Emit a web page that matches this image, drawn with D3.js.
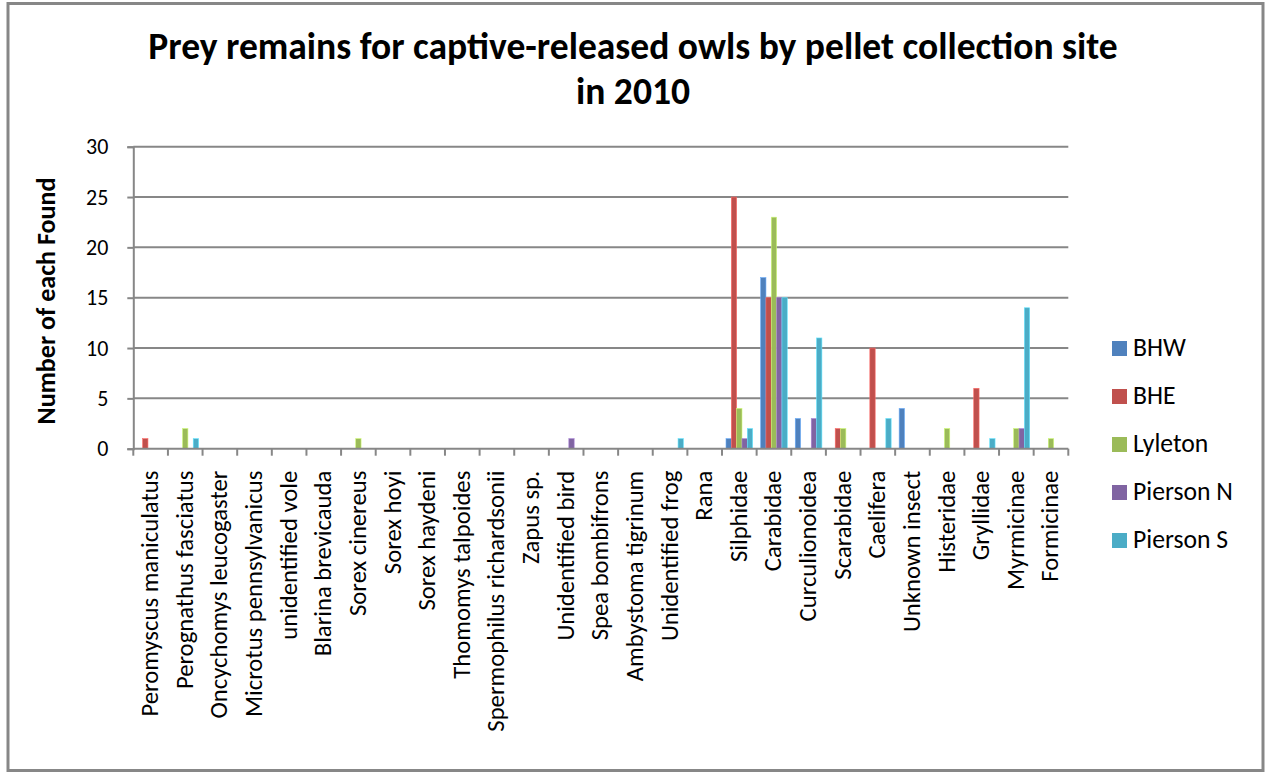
<!DOCTYPE html>
<html>
<head>
<meta charset="utf-8">
<script src="https://cdn.jsdelivr.net/npm/d3@7"></script>
<style>
  html, body { margin: 0; padding: 0; background: #fff; }
  svg { display: block; font-family: Calibri, Carlito, Lato, "Open Sans", sans-serif; }
</style>
</head>
<body>
<svg id="chart" width="1270" height="774"></svg>
<script>
// Prey taxa, in the order listed along the category axis
const categories = [
  "Peromyscus maniculatus", "Perognathus fasciatus", "Oncychomys leucogaster",
  "Microtus pennsylvanicus", "unidentified vole", "Blarina brevicauda",
  "Sorex cinereus", "Sorex hoyi", "Sorex haydeni", "Thomomys talpoides",
  "Spermophilus richardsonii", "Zapus sp.", "Unidentified bird",
  "Spea bombifrons", "Ambystoma tigrinum", "Unidentified frog", "Rana",
  "Silphidae", "Carabidae", "Curculionoidea", "Scarabidae", "Caelifera",
  "Unknown insect", "Histeridae", "Gryllidae", "Myrmicinae", "Formicinae"
];

// Counts per pellet collection site (same order as categories)
const bhw       = [0,0,0,0,0,0,0,0,0,0,0,0,0,0,0,0,0, 1,17,3,0,0,4,0,0,0,0];
const bhe       = [1,0,0,0,0,0,0,0,0,0,0,0,0,0,0,0,0,25,15,0,2,10,0,0,6,0,0];
const lyleton   = [0,2,0,0,0,0,1,0,0,0,0,0,0,0,0,0,0, 4,23,0,2,0,0,2,0,2,1];
const piersonN  = [0,0,0,0,0,0,0,0,0,0,0,0,1,0,0,0,0, 1,15,3,0,0,0,0,0,2,0];
const piersonS  = [0,1,0,0,0,0,0,0,0,0,0,0,0,0,0,1,0, 2,15,11,0,3,0,0,1,14,0];

const seriesNames = ["BHW", "BHE", "Lyleton", "Pierson N", "Pierson S"];
const seriesColors = ["#4F81BD", "#C0504D", "#9BBB59", "#8064A2", "#4BACC6"];
const yTicks = [0, 5, 10, 15, 20, 25, 30];

const series = [bhw, bhe, lyleton, piersonN, piersonS].map((vals, i) => ({
  name: seriesNames[i], color: seriesColors[i], values: vals
}));

const svg = d3.select("#chart");
const plot = { left: 133.3, right: 1068.3, top: 146.7, bottom: 448.7 };
const gridColor = "#878787";

// Pick a font size so that a sample string spans the wanted width
function fitSize(sample, width, weight) {
  const probe = svg.append("text").attr("font-size", 20)
    .attr("font-weight", weight || "normal").text(sample);
  const len = probe.node().getComputedTextLength();
  probe.remove();
  return 20 * width / len;
}
const titleSize  = fitSize("Prey remains for captive-released owls by pellet collection site", 970, "bold");
const yTitleSize = fitSize("Number of each Found", 247, "bold");
const catSize    = fitSize("Peromyscus maniculatus", 246);
const legendSize = fitSize("Pierson N", 100);
const tickFont   = 22;

// Outer chart frame
svg.append("rect")
  .attr("x", 8).attr("y", 3.5)
  .attr("width", 1255).attr("height", 767)
  .attr("fill", "#fff")
  .attr("stroke", gridColor).attr("stroke-width", 3);

// Title
const title = svg.append("text")
  .attr("text-anchor", "middle")
  .attr("font-size", titleSize).attr("font-weight", "bold").attr("fill", "#000");
title.append("tspan").attr("x", 633).attr("y", 59)
  .text("Prey remains for captive-released owls by pellet collection site");
title.append("tspan").attr("x", 633).attr("y", 104).text("in 2010");

// Scales
const x0 = d3.scaleBand().domain(categories).range([plot.left, plot.right]).padding(0);
const nSeries = series.length;
const barW = x0.bandwidth() / (nSeries + 1.5);
const x1 = d3.scaleBand().domain(seriesNames)
  .range([0.75 * barW, 0.75 * barW + nSeries * barW]).padding(0);
const y = d3.scaleLinear().domain([0, 30]).range([plot.bottom, plot.top]);

// Horizontal gridlines
svg.append("g").selectAll("line").data(yTicks.filter(t => t > 0)).join("line")
  .attr("x1", plot.left).attr("x2", plot.right)
  .attr("y1", d => y(d)).attr("y2", d => y(d))
  .attr("stroke", gridColor).attr("stroke-width", 2);

// Y axis
const yAxis = svg.append("g")
  .attr("transform", `translate(${plot.left},0)`)
  .call(d3.axisLeft(y).tickValues(yTicks).tickSize(6).tickPadding(19));
yAxis.attr("font-family", null).attr("font-size", null);
yAxis.select(".domain").attr("stroke", gridColor).attr("stroke-width", 2);
yAxis.selectAll(".tick line").attr("stroke", gridColor).attr("stroke-width", 2);
yAxis.selectAll(".tick text")
  .style("font-size", tickFont + "px").attr("fill", "#000");

// Y axis title
svg.append("text")
  .attr("transform", `translate(55,${301}) rotate(-90)`)
  .attr("text-anchor", "middle")
  .attr("font-size", yTitleSize).attr("font-weight", "bold").attr("fill", "#000")
  .text("Number of each Found");

// Bars
const groups = svg.append("g").selectAll("g").data(series).join("g")
  .attr("fill", d => d.color);
groups.selectAll("rect")
  .data(d => d.values.map((v, i) => ({ v, cat: categories[i], name: d.name, color: d.color })).filter(e => e.v > 0))
  .join("rect")
  .attr("x", d => x0(d.cat) + x1(d.name))
  .attr("width", x1.bandwidth())
  .attr("y", d => y(d.v))
  .attr("height", d => y(0) - y(d.v))
  .attr("stroke", d => d3.color(d.color).brighter(0.8))
  .attr("stroke-width", 0.6);

// X axis with tick marks at band boundaries
svg.append("line")
  .attr("x1", plot.left).attr("x2", plot.right)
  .attr("y1", plot.bottom).attr("y2", plot.bottom)
  .attr("stroke", gridColor).attr("stroke-width", 2);
const boundaries = categories.map(c => x0(c)).concat([plot.right]);
svg.append("g").selectAll("line").data(boundaries).join("line")
  .attr("x1", d => d).attr("x2", d => d)
  .attr("y1", plot.bottom).attr("y2", plot.bottom + 7)
  .attr("stroke", gridColor).attr("stroke-width", 2);

// Rotated category labels
svg.append("g").selectAll("text").data(categories).join("text")
  .attr("transform", d => `translate(${x0(d) + x0.bandwidth() / 2 + 7.5},${plot.bottom + 22}) rotate(-90)`)
  .attr("text-anchor", "end")
  .attr("font-size", catSize).attr("fill", "#000")
  .text(d => d);

// Legend
const legend = svg.append("g").selectAll("g").data(series).join("g")
  .attr("transform", (d, i) => `translate(1112,${341 + i * 48})`);
legend.append("rect").attr("width", 15).attr("height", 15).attr("fill", d => d.color);
legend.append("text").attr("x", 21).attr("y", 15)
  .attr("font-size", legendSize).attr("fill", "#000").text(d => d.name);
</script>
</body>
</html>
